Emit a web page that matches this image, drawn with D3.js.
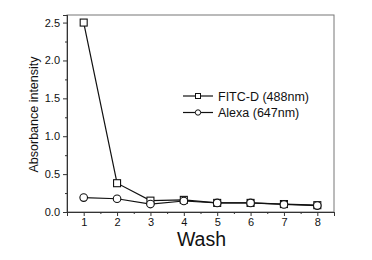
<!DOCTYPE html>
<html>
<head>
<meta charset="utf-8">
<script src="https://cdn.jsdelivr.net/npm/d3@7"></script>
<style>
  body { margin: 0; background: #fff; }
  text { font-family: "Liberation Sans", Arial, sans-serif; fill: #111; }
</style>
</head>
<body>
<div id="chart"></div>
<script>
// data
var washes = [1, 2, 3, 4, 5, 6, 7, 8];
var fitc = [2.5, 0.38, 0.15, 0.16, 0.12, 0.12, 0.105, 0.09];
var alexa = [0.19, 0.175, 0.105, 0.145, 0.12, 0.12, 0.1, 0.085];
var yTicks = [0, 0.5, 1.0, 1.5, 2.0, 2.5];
var seriesNames = ["FITC-D (488nm)", "Alexa (647nm)"];

var width = 372, height = 260;
var plot = {left: 67, right: 334, top: 15, bottom: 212};

var svg = d3.select("#chart").append("svg")
    .attr("width", width)
    .attr("height", height);

var x = d3.scaleLinear().domain([0.5, 8.5]).range([plot.left, plot.right]);
var y = d3.scaleLinear().domain([0, 2.6]).range([plot.bottom, plot.top]);

// frame
svg.append("rect")
    .attr("x", plot.left).attr("y", plot.top)
    .attr("width", plot.right - plot.left).attr("height", plot.bottom - plot.top)
    .attr("fill", "none").attr("stroke", "#777").attr("stroke-width", 1);

// x axis, major + minor
var xAxis = svg.append("g").attr("transform", "translate(0," + plot.bottom + ")");
xAxis.call(d3.axisBottom(x).tickValues(washes).tickSize(4).tickPadding(2).tickFormat(d3.format("d")));
xAxis.append("g").call(d3.axisBottom(x).tickValues(d3.range(1.5, 8.5, 1)).tickSize(2).tickFormat(""));

var yAxis = svg.append("g").attr("transform", "translate(" + plot.left + ",0)");
yAxis.call(d3.axisLeft(y).tickValues(yTicks).tickSize(4).tickPadding(3).tickFormat(d3.format(".1f")));
yAxis.append("g").call(d3.axisLeft(y).tickValues(d3.range(0.25, 2.6, 0.5)).tickSize(2).tickFormat(""));

svg.selectAll(".domain").attr("stroke", "#333");
svg.selectAll(".tick line").attr("stroke", "#333");
svg.selectAll(".tick text").style("font-size", "11px").attr("fill", "#111");

// axis titles
svg.append("text")
    .attr("x", (plot.left + plot.right) / 2 + 1).attr("y", 246)
    .attr("text-anchor", "middle")
    .style("font-size", "19.5px")
    .text("Wash");

svg.append("text")
    .attr("transform", "translate(37.5," + ((plot.top + plot.bottom) / 2 + 1) + ") rotate(-90)")
    .attr("text-anchor", "middle")
    .style("font-size", "12.5px")
    .text("Absorbance intensity");

// lines
var line = d3.line()
    .x(function (d, i) { return x(washes[i]); })
    .y(function (d) { return y(d); });

[fitc, alexa].forEach(function (vals, s) {
    svg.append("path")
        .attr("d", line(vals))
        .attr("fill", "none").attr("stroke", "#111").attr("stroke-width", 1.2);
});

// markers
svg.selectAll(".sq").data(fitc).enter().append("rect")
    .attr("x", function (d, i) { return x(washes[i]) - 3.5; })
    .attr("y", function (d) { return y(d) - 3.5; })
    .attr("width", 7).attr("height", 7)
    .attr("fill", "#fff").attr("stroke", "#111").attr("stroke-width", 1.1);

svg.selectAll(".ci").data(alexa).enter().append("circle")
    .attr("cx", function (d, i) { return x(washes[i]); })
    .attr("cy", function (d) { return y(d); })
    .attr("r", 3.8)
    .attr("fill", "#fff").attr("stroke", "#111").attr("stroke-width", 1.1);

// legend
var legend = svg.append("g").attr("transform", "translate(183,96)");
seriesNames.forEach(function (name, i) {
    var g = legend.append("g").attr("transform", "translate(0," + (i * 16.5) + ")");
    g.append("line").attr("x1", 0).attr("x2", 30).attr("y1", 0).attr("y2", 0)
        .attr("stroke", "#111").attr("stroke-width", 1.2);
    if (i === 0) {
        g.append("rect").attr("x", 12.5).attr("y", -2.5).attr("width", 5).attr("height", 5)
            .attr("fill", "#fff").attr("stroke", "#111");
    } else {
        g.append("circle").attr("cx", 15).attr("cy", 0).attr("r", 2.7)
            .attr("fill", "#fff").attr("stroke", "#111");
    }
    g.append("text").attr("x", 35).attr("y", 4.5)
        .style("font-size", "12.5px")
        .text(name);
});
</script>
</body>
</html>
